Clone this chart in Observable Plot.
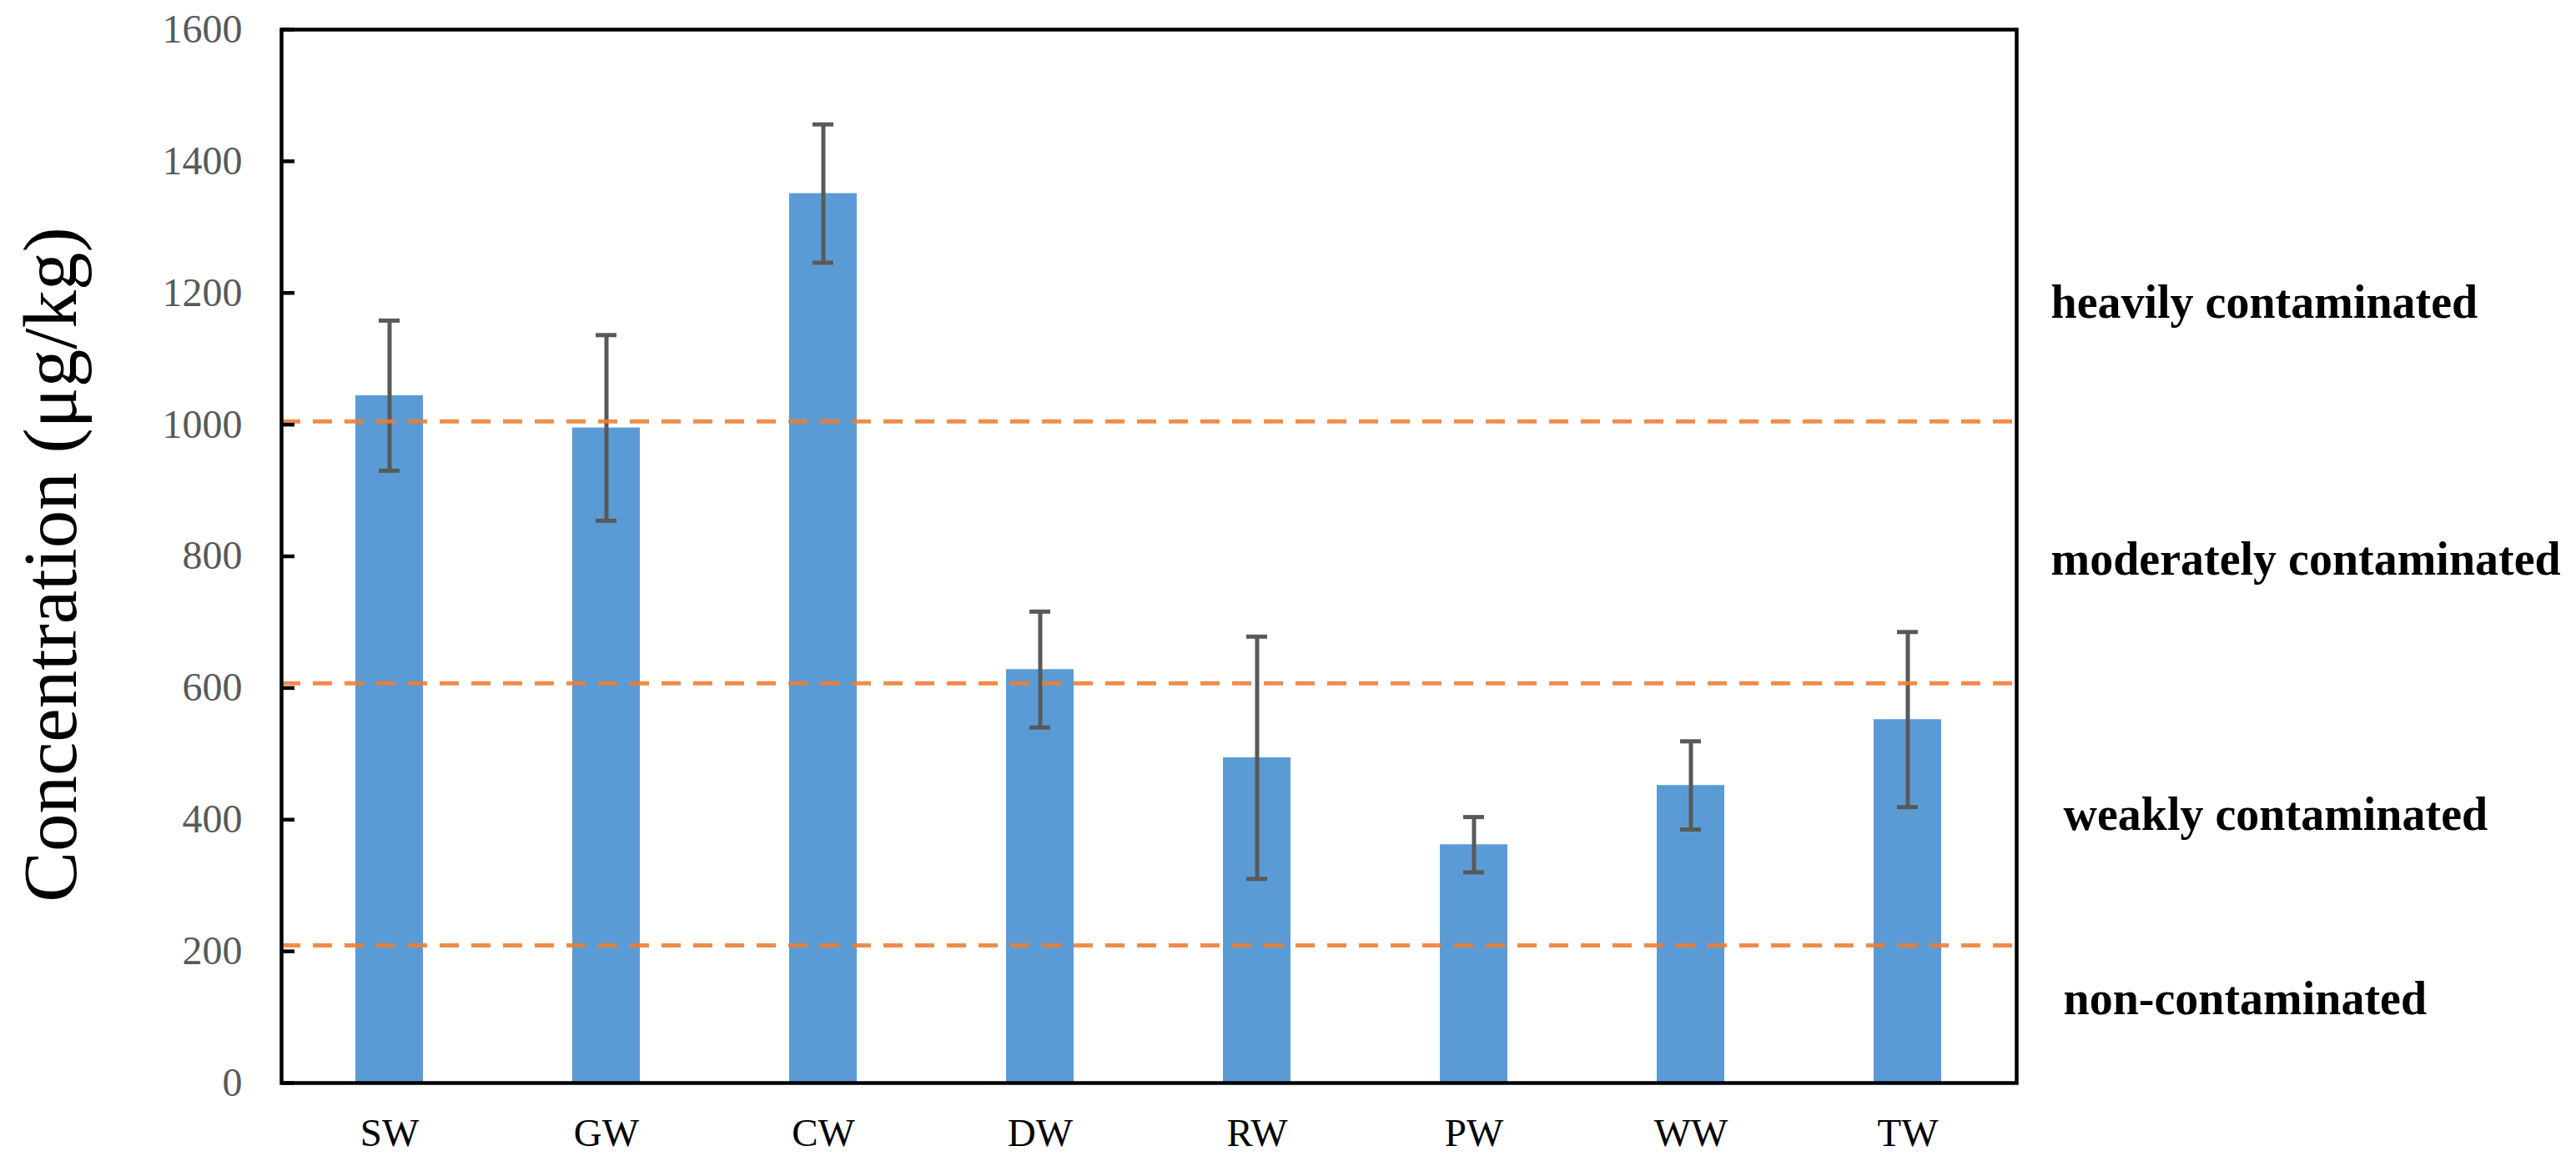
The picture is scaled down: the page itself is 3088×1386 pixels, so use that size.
<!DOCTYPE html>
<html>
<head>
<meta charset="utf-8">
<script src="https://cdn.jsdelivr.net/npm/d3@7"></script>
<script src="https://cdn.jsdelivr.net/npm/@observablehq/plot@0.6"></script>
<style>
  html, body { margin: 0; padding: 0; background: #fff; }
  #chart svg { display: block; }
</style>
</head>
<body>
<div id="chart"></div>
<script>
// ---- data ----
const categories = ["SW", "GW", "CW", "DW", "RW", "PW", "WW", "TW"];
const meanValues = [1044, 995, 1351, 628, 494, 362, 452, 552];
const sdValues   = [114, 141, 105, 88, 184, 42, 67, 133];
const thresholds = [1005, 607, 209];
const zoneLabels = ["heavily contaminated", "moderately contaminated", "weakly contaminated", "non-contaminated"];
const zoneLabelY = [1162, 772, 385, 105];
const yTicks = [0, 200, 400, 600, 800, 1000, 1200, 1400, 1600];
const yLabel = "Concentration (μg/kg)";

const rows = categories.map((c, i) => ({cat: c, value: meanValues[i], sd: sdValues[i]}));
const zones = zoneLabels.map((t, i) => ({label: t, y: zoneLabelY[i]}));

const serif = "'Liberation Serif', 'Times New Roman', 'DejaVu Serif', serif";
const errColor = "#595959";

const W = 3088, H = 1386;
const mLeft = 337, mRight = 671, mTop = 35, mBottom = 88;
const frameW = W - mLeft - mRight;
const tickLen = 16;

const chart = Plot.plot({
  width: W,
  height: H,
  marginLeft: mLeft,
  marginRight: mRight,
  marginTop: mTop,
  marginBottom: mBottom,
  style: {fontFamily: serif, background: "white", overflow: "visible"},
  x: {domain: categories, paddingInner: 0.688, paddingOuter: 0.344},
  y: {domain: [0, 1600]},
  marks: [
    Plot.barY(rows, {x: "cat", y: "value", fill: "#5B9BD5"}),
    Plot.ruleX(rows, {x: "cat", y1: d => d.value - d.sd, y2: d => d.value + d.sd, stroke: errColor, strokeWidth: 5}),
    Plot.tickY(rows, {x: "cat", y: d => d.value + d.sd, stroke: errColor, strokeWidth: 5, inset: 28}),
    Plot.tickY(rows, {x: "cat", y: d => d.value - d.sd, stroke: errColor, strokeWidth: 5, inset: 28}),
    Plot.ruleY(thresholds, {stroke: "#ED7D31", strokeWidth: 5, strokeDasharray: "23,15", strokeOpacity: 0.88}),
    Plot.axisY({ticks: yTicks, tickSize: 0, tickPadding: 47, tickFormat: d => String(d), fontSize: 48, color: "#595959", label: null}),
    Plot.tickY(yTicks, {y: d => d, insetRight: frameW - tickLen, stroke: "black", strokeWidth: 4.5}),
    Plot.axisX({tickSize: 0, tickPadding: 42, fontSize: 47, color: "black", label: null}),
    Plot.text([yLabel], {frameAnchor: "left", dx: -247, dy: 10, rotate: -90, lineAnchor: "bottom", textAnchor: "middle", fontSize: 91, fill: "black"}),
    Plot.text(zones.slice(0, 2), {y: "y", text: "label", frameAnchor: "right", dx: 41, textAnchor: "start", lineAnchor: "bottom", fontSize: 56, fontWeight: "bold", fill: "black"}),
    Plot.text(zones.slice(2), {y: "y", text: "label", frameAnchor: "right", dx: 56, textAnchor: "start", lineAnchor: "bottom", fontSize: 56, fontWeight: "bold", fill: "black"}),
    Plot.frame({stroke: "black", strokeWidth: 4.5})
  ]
});
document.getElementById("chart").appendChild(chart);
</script>
</body>
</html>
